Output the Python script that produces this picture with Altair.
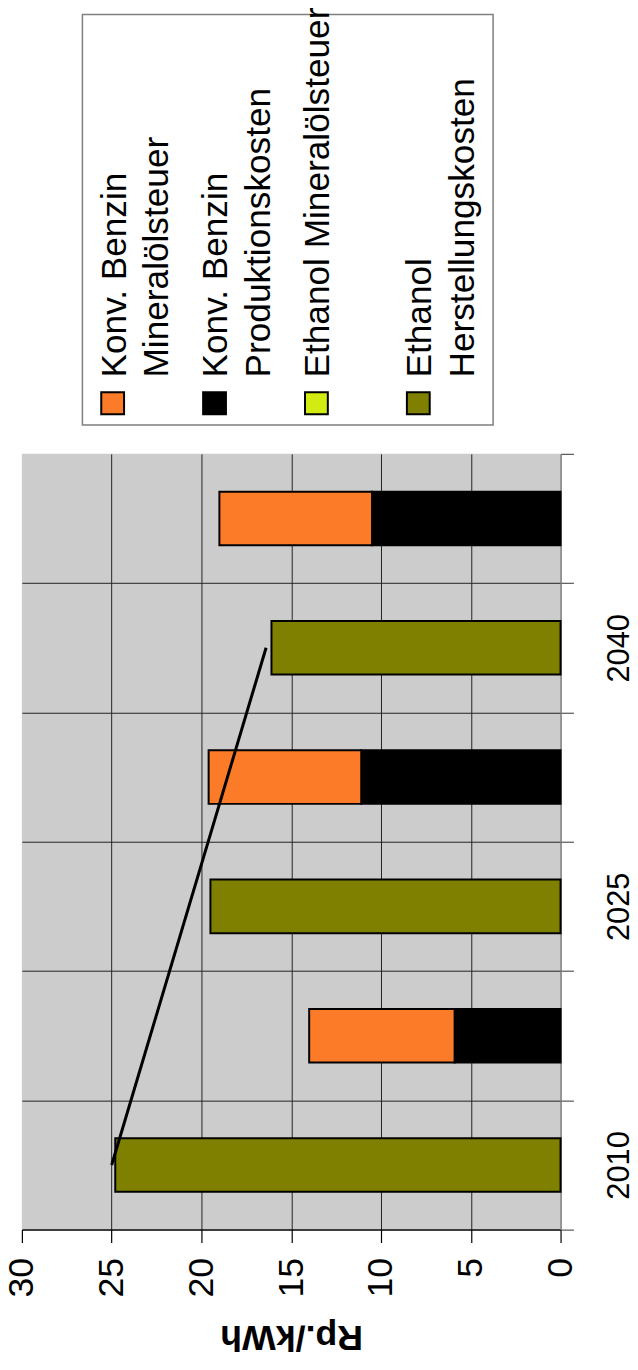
import altair as alt
import pandas as pd

# ---------------- data ----------------
years = ["2010", "2025", "2040"]
ethanol_herstellung = [24.8, 19.5, 16.1]
ethanol_steuer = [0.0, 0.0, 0.0]
benzin_produktion = [5.9, 11.1, 10.5]
benzin_steuer = [8.1, 8.5, 8.5]
trend_years = ["2010", "2040"]
trend_values = [25.0, 16.4]
x_ticks = [0, 5, 10, 15, 20, 25, 30]

series_names = [
    "Konv. Benzin Mineralölsteuer",
    "Konv. Benzin Produktionskosten",
    "Ethanol Mineralölsteuer",
    "Ethanol Herstellungskosten",
]
series_colors = ["#FB7B29", "#000000", "#D2EB11", "#808000"]
legend_lines = [
    ["Konv. Benzin", "Mineralölsteuer"],
    ["Konv. Benzin", "Produktionskosten"],
    ["Ethanol Mineralölsteuer"],
    ["Ethanol", "Herstellungskosten"],
]

# ---------------- tables ----------------
rows = []
for i, yr in enumerate(years):
    e_slot = yr + "|E"
    b_slot = yr + "|B"
    rows.append({"slot": e_slot, "start": 0.0, "end": ethanol_herstellung[i], "series": series_names[3]})
    if ethanol_steuer[i] > 0:
        rows.append({"slot": e_slot, "start": ethanol_herstellung[i],
                     "end": ethanol_herstellung[i] + ethanol_steuer[i], "series": series_names[2]})
    rows.append({"slot": b_slot, "start": 0.0, "end": benzin_produktion[i], "series": series_names[1]})
    rows.append({"slot": b_slot, "start": benzin_produktion[i],
                 "end": benzin_produktion[i] + benzin_steuer[i], "series": series_names[0]})
bar_df = pd.DataFrame(rows)

slot_order = []
for yr in reversed(years):
    slot_order += [yr + "|B", yr + "|E"]

trend_df = pd.DataFrame({"slot": [y + "|E" for y in trend_years], "value": trend_values})

FONT = "Liberation Sans"
W, H = 543, 782

y_axis = alt.Axis(
    orient="right", tickBand="extent", grid=True, gridColor="#222222", gridWidth=1,
    gridOpacity={"condition": {"test": "datum.extra || datum.index == 1", "value": 0}, "value": 1},
    domainColor="#777777", domainWidth=1.5, tickColor="#555555", tickSize=13, tickWidth=1.2,
    labelAngle=270, labelAlign="center", labelBaseline="top", labelFontSize=31,
    labelFont=FONT, labelColor="black", labelPadding=31, labelOverlap=False,
    labelExpr="split(datum.label,'|')[1] == 'E' ? split(datum.label,'|')[0] : ''",
)
x_axis = alt.Axis(
    values=x_ticks, grid=True, gridColor="#222222", gridWidth=1,
    gridOpacity={"condition": {"test": "datum.value == 30 || datum.value == 0", "value": 0}, "value": 1},
    domainColor="black", domainWidth=1.5, tickColor="black", tickSize=13, tickWidth=1.2,
    labelAngle=270, labelAlign="right", labelBaseline="middle", labelFontSize=36,
    labelFont=FONT, labelColor="black", labelPadding=15, labelFlush=False,
    titleAngle=180, titleFontSize=36, titleFontWeight="bold", titleFont=FONT,
    titleBaseline="alphabetic", titleAlign="center", titleX=W / 2, titleY=97, titleColor="black",
)

bars = alt.Chart(bar_df).mark_bar(size=54, stroke="black", strokeWidth=2).encode(
    x=alt.X("start:Q", scale=alt.Scale(domain=[0, 30], reverse=True, nice=False), axis=x_axis, title="Rp./kWh"),
    x2="end:Q",
    y=alt.Y("slot:N", sort=slot_order, scale=alt.Scale(paddingInner=0, paddingOuter=0), axis=y_axis, title=None),
    color=alt.Color("series:N", scale=alt.Scale(domain=series_names, range=series_colors), legend=None),
)

trend = alt.Chart(trend_df).mark_line(color="black", strokeWidth=3).encode(
    x=alt.X("value:Q", title="Rp./kWh"),
    y=alt.Y("slot:N", sort=slot_order, title=None),
)

# ---------------- manual rotated legend (layout in pixels relative to plot origin) ----------------
layers = [bars, trend]
one = pd.DataFrame({"k": [0]})
layers.append(
    alt.Chart(one).mark_rect(fill="white", stroke="#7f7f7f", strokeWidth=1.5).encode(
        x=alt.value(61), x2=alt.value(475), y=alt.value(-443), y2=alt.value(-29)
    )
)
entry_x0 = 79.0
entry_step = 102.7
line_step = 43.0
for k, lines in enumerate(legend_lines):
    cx = entry_x0 + entry_step * k
    layers.append(
        alt.Chart(one).mark_rect(fill=series_colors[k], stroke="black", strokeWidth=2).encode(
            x=alt.value(cx + 1), x2=alt.value(cx + 24), y=alt.value(-62), y2=alt.value(-40)
        )
    )
    for j, txt in enumerate(lines):
        layers.append(
            alt.Chart(pd.DataFrame({"t": [txt]})).mark_text(
                angle=270, align="left", baseline="alphabetic", fontSize=35.5, font=FONT, color="black"
            ).encode(
                x=alt.value(cx + line_step * j + 25.5), y=alt.value(-77), text="t:N"
            )
        )

chart = alt.layer(*layers).properties(
    width=W, height=H,
    autosize=alt.AutoSizeParams(type="none"),
    padding={"left": 14, "top": 444, "right": 70, "bottom": 126},
).configure(font=FONT).configure_view(fill="#CCCCCC", strokeWidth=0)

chart.save("out.html", embed_options={"renderer": "svg", "actions": False})
